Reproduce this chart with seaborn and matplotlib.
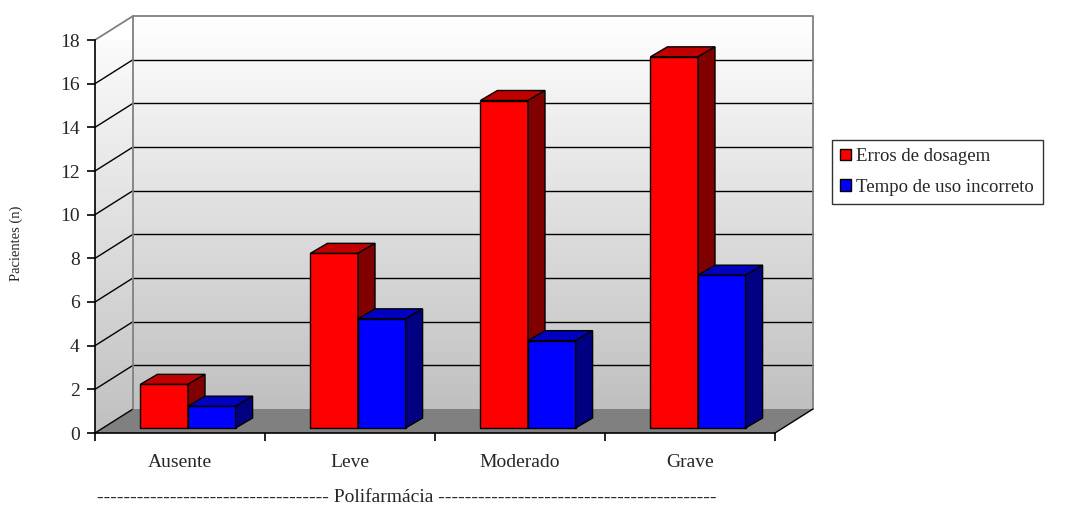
import numpy as np
import pandas as pd
import matplotlib
matplotlib.use("Agg")
import matplotlib.pyplot as plt
from matplotlib.patches import Polygon, Patch
from matplotlib.colors import LinearSegmentedColormap
import seaborn as sns

## data ----------------------------------------------------------------------
categorias = ["Ausente", "Leve", "Moderado", "Grave"]
erros      = [2, 8, 15, 17]
tempo      = [1, 5, 4, 7]
series     = ["Erros de dosagem", "Tempo de uso incorreto"]
yticks     = list(range(0, 19, 2))
#-----------------------------------------------------------------------------#
## cores (frente, topo, lado) -------------------------------------------------
cor_frente = ["#FF0000", "#0000FF"]
cor_topo   = ["#C00000", "#0000C0"]
cor_lado   = ["#800000", "#000080"]
#-----------------------------------------------------------------------------#

## estilo ---------------------------------------------------------------------
sns.set_style("white")
plt.rcParams['font.family'] = ['Liberation Serif', 'DejaVu Serif']

W, H = 1085, 508
fig = plt.figure(figsize=(W / 100, H / 100), dpi=100)
# eixo = plano da frente (onde ficam os ticks)
ax = fig.add_axes([95 / W, (H - 433) / H, 680 / W, 393 / H])
ax.set_facecolor("none")

xl, xr = -0.5, len(categorias) - 0.5
ymax = 18
# px -> unidades de dados
sx = (xr - xl) / 680
sy = ymax / 393
# deslocamentos em pixel: plano das barras, fundo, profundidade da barra
bar_dx, bar_dy = 8 * sx, 5 * sy
back_dx, back_dy = 38 * sx, 24 * sy
dep_dx, dep_dy = 17 * sx, 10 * sy

## barras com seaborn ---------------------------------------------------------
df = pd.DataFrame({"Polifarmácia": categorias * 2,
                   "Pacientes": erros + tempo,
                   "Série": [series[0]] * len(erros) + [series[1]] * len(tempo)})
sns.barplot(data=df, x="Polifarmácia", y="Pacientes", hue="Série",
            palette=cor_frente, saturation=1, width=0.56,
            edgecolor="black", linewidth=1, legend=False, ax=ax)

## paredes --------------------------------------------------------------------
grad = LinearSegmentedColormap.from_list("parede", ["#C0C0C0", "#FFFFFF"])
g = np.linspace(0, 1, 256)[:, None]
ax.imshow(g, cmap=grad, origin="lower", aspect="auto", zorder=0,
          extent=[xl + back_dx, xr + back_dx, back_dy, ymax + back_dy],
          clip_on=False)
# parede lateral
pts = [(xl, 0), (xl, ymax), (xl + back_dx, ymax + back_dy), (xl + back_dx, back_dy)]
lado = Polygon(pts, closed=True, facecolor="none", edgecolor="none")
ax.add_patch(lado)
im = ax.imshow(g, cmap=grad, origin="lower", aspect="auto", zorder=0,
               extent=[xl, xl + back_dx, 0, ymax + back_dy])
im.set_clip_path(lado)
# chao
chao = [(xl, 0), (xr, 0), (xr + back_dx, back_dy), (xl + back_dx, back_dy)]
ax.add_patch(Polygon(chao, closed=True, facecolor="#808080",
                     edgecolor="none", zorder=1, clip_on=False))

# grades
for v in yticks[1:-1]:
    ax.plot([xl + back_dx, xr + back_dx], [v + back_dy] * 2, color="black",
            lw=1, zorder=1, clip_on=False)
    ax.plot([xl, xl + back_dx], [v, v + back_dy], color="black",
            lw=1, zorder=1, clip_on=False)
ax.plot([xl, xl + back_dx], [0, back_dy], color="black", lw=1, zorder=1, clip_on=False)
# bordas cinzas
cinza = dict(color="#808080", lw=1.3, zorder=1, clip_on=False)
ax.plot([xl, xl + back_dx, xr + back_dx, xr + back_dx],
        [ymax, ymax + back_dy, ymax + back_dy, back_dy], **cinza)
ax.plot([xl + back_dx, xl + back_dx], [back_dy, ymax + back_dy], **cinza)
ax.plot([xr, xr + back_dx], [0, back_dy], color="black", lw=1, zorder=2, clip_on=False)

## barras em 3D ---------------------------------------------------------------
for i, cont in enumerate(ax.containers):
    for bar in cont:
        bar.set_x(bar.get_x() + bar_dx)
        bar.set_y(bar_dy)
        bar.set_zorder(3 + i)
        bar.set_clip_on(False)
        x0 = bar.get_x()
        x1 = x0 + bar.get_width()
        y0 = bar_dy
        y1 = y0 + bar.get_height()
        topo = [(x0, y1), (x1, y1), (x1 + dep_dx, y1 + dep_dy), (x0 + dep_dx, y1 + dep_dy)]
        lat  = [(x1, y0), (x1 + dep_dx, y0 + dep_dy), (x1 + dep_dx, y1 + dep_dy), (x1, y1)]
        ax.add_patch(Polygon(topo, closed=True, facecolor=cor_topo[i],
                             edgecolor="black", lw=1, zorder=3 + i, clip_on=False))
        ax.add_patch(Polygon(lat, closed=True, facecolor=cor_lado[i],
                             edgecolor="black", lw=1, zorder=3 + i, clip_on=False))

## eixos ----------------------------------------------------------------------
ax.set_xlim(xl, xr)
ax.set_ylim(0, ymax)
ax.set_yticks(yticks)
ax.set_xticks(range(len(categorias)))
ax.set_xticklabels(categorias)
ax.set_xticks(np.arange(xl, xr + 0.1, 1), minor=True)
for s in ["top", "right"]:
    ax.spines[s].set_visible(False)
for s in ["left", "bottom"]:
    ax.spines[s].set_color("black")
    ax.spines[s].set_linewidth(1.2)
    ax.spines[s].set_zorder(5)
ax.tick_params(axis="y", length=6, width=1.2, color="black", pad=5,
               labelsize=14, left=True)
ax.tick_params(axis="x", which="major", length=0, pad=15, labelsize=14)
ax.tick_params(axis="x", which="minor", length=6, width=1.2, color="black",
               bottom=True)

ax.set_ylabel("Pacientes (n)", fontsize=10.5)
ax.yaxis.set_label_coords(-0.106, 0.483)
ax.set_xlabel("-" * 35 + " Polifarmácia " + "-" * 42, fontsize=14)
ax.xaxis.set_label_coords(0.458, -0.143)

## legenda --------------------------------------------------------------------
handles = [Patch(facecolor=c, edgecolor="black", lw=1) for c in cor_frente]
leg = fig.legend(handles, series, loc="upper left",
                 bbox_to_anchor=(832 / W, (H - 140) / H), borderaxespad=0,
                 fontsize=13.5, frameon=True, fancybox=False, shadow=False,
                 handlelength=0.55, handleheight=0.55, handletextpad=0.3,
                 labelspacing=0.7, borderpad=0.45)
leg.get_frame().set_edgecolor("black")
leg.get_frame().set_linewidth(1)

fig.savefig("out.png", dpi=100)
